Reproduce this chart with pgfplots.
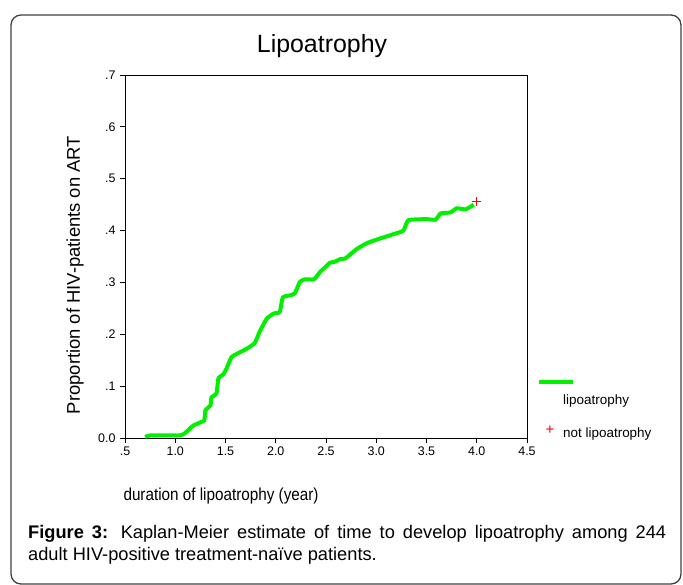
\documentclass[border=0pt]{standalone}
\usepackage{fontspec}
\setmainfont{Liberation Sans}
\newfontfamily\narrowfont[FakeStretch=0.88]{Liberation Sans}
\usepackage{pgfplots}
\pgfplotsset{compat=1.18}
\definecolor{kmgreen}{RGB}{0,240,0}
\begin{document}
\begin{tikzpicture}
% page frame (image pixels as bp, y downward = negative)
\path[use as bounding box] (0bp,0bp) rectangle (683bp,-585bp);
\draw[line width=1.3bp, black!75, rounded corners=10bp] (11bp,-15bp) rectangle (681bp,-584bp);
\node[font=\fontsize{25}{28}\selectfont] at (322bp,-46bp) {Lipoatrophy};
\begin{axis}[
  at={(125bp,-438bp)}, anchor=south west,
  scale only axis,
  width=402bp, height=363bp,
  xmin=0.5, xmax=4.5, ymin=0, ymax=0.7,
  axis line style={line width=0.8bp},
  tick align=outside, xtick pos=bottom, ytick pos=left,
  major tick length=5bp,
  tick style={line width=0.8bp, black},
  xtick={0.5,1,1.5,2,2.5,3,3.5,4,4.5},
  xticklabels={.5,1.0,1.5,2.0,2.5,3.0,3.5,4.0,4.5},
  ytick={0,0.1,0.2,0.3,0.4,0.5,0.6,0.7},
  yticklabels={0.0,.1,.2,.3,.4,.5,.6,.7},
  ticklabel style={font=\fontsize{12.5}{14}\selectfont},
  yticklabel style={xshift=-1bp},
  clip=false,
]
\addplot[kmgreen, line width=4bp, smooth, tension=0.3] coordinates {
(0.70,0.002) (0.75,0.005) (0.90,0.005) (1.05,0.005) (1.10,0.010) (1.18,0.024)
(1.26,0.031) (1.29,0.034) (1.30,0.053) (1.35,0.063) (1.36,0.078) (1.41,0.086)
(1.43,0.115) (1.48,0.123) (1.51,0.134) (1.56,0.156) (1.63,0.164) (1.71,0.172)
(1.79,0.183) (1.84,0.205) (1.91,0.230) (1.98,0.240) (2.04,0.243) (2.07,0.271)
(2.14,0.275) (2.19,0.279) (2.24,0.301) (2.29,0.306) (2.38,0.306) (2.44,0.320)
(2.49,0.329) (2.54,0.338) (2.59,0.340) (2.64,0.345) (2.69,0.346) (2.81,0.365)
(2.91,0.376) (3.01,0.383) (3.17,0.393) (3.27,0.400) (3.32,0.420) (3.50,0.422)
(3.59,0.421) (3.64,0.433) (3.74,0.435) (3.80,0.443) (3.89,0.441) (3.97,0.450)
};
\addplot[only marks, mark=+, red, mark size=4.5bp, line width=1bp] coordinates {(4.00,0.456)};
\end{axis}
\node[rotate=90, font=\fontsize{18.5}{20}\selectfont] at (75bp,-275bp) {Proportion of HIV-patients on ART};
\node[font=\narrowfont\fontsize{17.4}{19}\selectfont, anchor=west] at (120bp,-496bp) {duration of lipoatrophy (year)};
% legend
\draw[kmgreen, line width=4bp] (539bp,-382bp) -- (573bp,-382bp);
\node[anchor=west, font=\fontsize{13.5}{15}\selectfont, inner sep=0pt] at (563bp,-401bp) {lipoatrophy};
\node[red, font=\fontsize{15}{15}\selectfont, inner sep=0pt] at (550bp,-430bp) {+};
\node[anchor=west, font=\fontsize{13.5}{15}\selectfont, inner sep=0pt] at (563bp,-434bp) {not lipoatrophy};
% caption
\node[anchor=north west, text width=638bp, align=justify, inner sep=0pt,
      font=\fontsize{18.3}{22}\selectfont] at (28bp,-525bp)
  {\textbf{Figure 3:} Kaplan-Meier estimate of time to develop lipoatrophy among 244\linebreak adult HIV-positive treatment-naïve patients.};
\end{tikzpicture}
\end{document}
